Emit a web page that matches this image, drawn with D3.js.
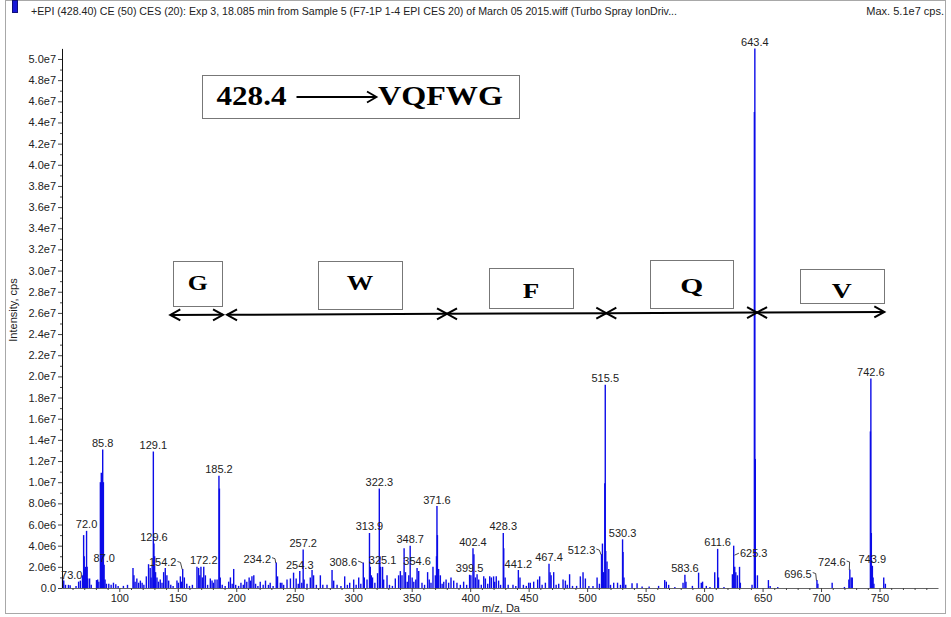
<!DOCTYPE html>
<html><head><meta charset="utf-8">
<script src="https://cdn.jsdelivr.net/npm/d3@7"></script>
<style>
html,body{margin:0;padding:0;background:#fff;}
svg{display:block;}
</style></head><body>
<svg id="c" width="951" height="617"></svg>
<script>
// ---------------- DATA ----------------
const headerText = "+EPI (428.40) CE (50) CES (20): Exp 3, 18.085 min from Sample 5 (F7-1P 1-4 EPI CES 20) of March 05 2015.wiff (Turbo Spray IonDriv...";
const maxText = "Max. 5.1e7 cps.";
const xTitle = "m/z, Da";
const yTitle = "Intensity, cps";
const xTickLabels = ["100","150","200","250","300","350","400","450","500","550","600","650","700","750"];
const yTickLabels = ["0.0","2.0e6","4.0e6","6.0e6","8.0e6","1.0e7","1.2e7","1.4e7","1.6e7","1.8e7","2.0e7","2.2e7","2.4e7","2.6e7","2.8e7","3.0e7","3.2e7","3.4e7","3.6e7","3.8e7","4.0e7","4.2e7","4.4e7","4.6e7","4.8e7","5.0e7"];

// peak m/z and intensity (in 1e6 cps)
const peakMz = [
 51.5,52.5,54.0,56.5,58.0,63.0,65.2,66.7,68.5,69.5,70.0,70.5,71.2,72.0,72.5,73.0,74.6,76.0,80.5,81.5,82.5,
 83.8,84.6,85.2,85.8,86.4,87.0,87.8,89.0,91.0,93.0,95.0,97.0,99.0,103.5,107.0,
 111.7,112.5,113.5,115.0,116.5,118.0,119.5,121.0,123.1,125.0,126.4,127.2,128.1,129.1,129.6,130.2,131.0,132.2,133.5,135.0,136.5,
 137.9,139.3,140.7,142.2,144.0,146.0,149.3,150.5,152.2,153.3,154.2,155.6,157.7,160.0,162.5,
 166.4,167.8,168.8,169.8,171.0,172.2,173.6,175.5,177.8,179.3,180.5,181.8,183.6,185.2,185.6,186.3,188.0,190.5,
 193.5,195.0,196.5,197.8,199.5,202.0,204.0,206.0,207.3,209.0,211.0,212.3,213.4,215.0,216.5,218.5,220.5,223.0,225.0,227.5,229.0,231.5,
 234.2,235.3,237.7,239.0,240.5,243.4,246.3,249.0,251.2,253.0,254.3,256.0,257.2,258.0,260.5,263.3,264.8,266.1,268.5,271.9,274.0,277.6,
 281.9,283.3,286.2,289.5,292.7,295.0,297.0,300.4,302.5,304.7,306.5,308.6,309.5,311.8,313.9,314.6,315.5,316.5,318.5,320.8,322.3,322.8,323.4,
 325.1,326.0,328.9,331.0,333.5,336.0,338.8,340.3,341.7,343.5,344.7,346.2,347.5,348.7,350.4,351.8,353.5,354.6,356.0,358.8,361.0,
 363.6,365.0,366.5,368.2,370.2,371.2,371.6,372.0,373.0,374.5,376.0,377.4,379.4,381.6,383.6,385.9,388.7,391.6,394.4,397.0,
 399.5,400.6,402.4,403.2,404.5,405.9,407.3,409.5,411.6,413.0,415.0,416.7,418.1,420.0,421.0,422.3,424.3,426.0,428.3,428.7,429.9,432.5,
 436.6,439.0,441.2,442.6,445.5,448.0,450.0,451.4,454.3,457.7,459.4,461.5,464.3,467.4,468.3,469.2,471.4,473.5,475.7,479.4,481.4,483.0,
 485.0,487.5,491.0,494.2,496.5,498.5,501.5,505.0,508.5,510.5,512.3,513.1,514.0,515.1,515.5,515.9,517.0,518.5,520.0,522.7,526.0,528.5,
 530.3,530.7,531.5,533.0,538.4,542.7,547.0,553.0,561.1,566.3,567.7,569.7,575.0,582.0,583.6,584.5,590.0,595.3,597.6,598.7,601.9,605.0,
 609.1,611.6,612.3,617.0,624.2,625.3,626.2,627.1,628.5,630.3,631.0,641.0,643.0,643.4,643.8,645.6,655.0,656.5,663.0,
 696.5,697.3,709.5,720.0,723.8,724.6,725.8,726.7,742.2,742.6,743.0,743.9,744.5,745.2,753.6,755.0
];
const peakIntensity = [
 0.9,0.7,0.3,0.3,0.25,0.2,0.6,0.7,1.2,5.0,3.0,1.8,2.0,5.4,2.0,0.9,0.9,0.3,0.75,0.8,0.6,
 10.0,10.9,10.2,13.1,10.0,2.2,0.8,0.4,0.4,0.3,0.5,0.35,0.2,0.2,0.3,
 1.9,1.2,0.6,0.9,0.5,0.7,0.5,0.3,1.1,2.25,1.9,1.0,2.2,12.9,4.2,3.0,1.5,1.0,0.6,0.8,0.5,
 1.5,1.9,1.2,0.7,0.3,0.2,0.7,0.5,1.1,0.6,1.8,1.0,0.4,0.2,0.3,
 2.0,1.9,1.2,2.0,1.0,2.0,1.2,0.3,0.9,0.7,0.5,0.8,0.8,10.6,9.4,1.0,0.3,0.2,
 0.6,1.0,0.4,1.8,0.3,0.2,0.5,0.3,0.8,0.6,1.0,0.7,1.1,1.2,0.4,0.2,0.6,0.3,0.7,0.3,0.5,0.2,
 2.4,1.1,0.5,0.5,0.3,0.8,0.9,1.45,0.9,0.4,1.6,0.5,3.65,0.8,0.4,1.0,1.7,1.2,0.3,1.2,0.3,0.3,
 1.7,0.7,0.3,0.2,1.1,0.3,0.5,0.8,0.3,1.0,0.4,2.4,1.0,0.8,5.2,2.0,1.2,1.0,0.5,1.4,9.4,3.0,2.0,
 2.0,0.8,1.2,0.3,0.2,0.9,1.2,1.6,1.2,3.75,1.5,0.6,1.2,4.0,1.0,0.6,0.8,1.9,1.6,0.5,0.3,
 1.5,0.8,0.5,2.0,1.2,3.0,7.75,5.0,1.8,1.2,0.4,0.6,0.8,0.5,1.0,0.7,0.5,0.3,0.6,0.3,
 1.25,1.2,3.75,3.2,1.0,1.3,0.8,0.3,1.1,0.9,0.4,1.1,1.0,1.1,0.6,1.1,0.7,0.3,5.2,3.75,1.0,0.3,
 0.3,0.2,1.7,1.0,0.3,0.2,0.5,0.5,0.6,0.8,1.1,0.3,0.5,2.3,1.5,1.2,1.5,0.3,0.4,0.8,0.7,0.3,
 1.3,0.2,0.2,1.1,1.5,0.9,0.2,0.2,1.0,0.4,3.2,4.2,1.5,9.9,19.2,3.5,2.5,1.8,0.3,0.5,0.5,0.3,
 4.6,3.4,1.0,0.3,0.45,0.45,0.15,0.15,0.2,0.75,0.6,0.3,0.1,0.5,1.25,0.6,0.2,1.45,0.5,0.6,0.2,0.1,
 1.5,3.7,1.0,0.1,1.3,4.0,2.0,1.5,1.2,2.0,0.5,0.3,45.0,51.0,12.2,1.2,0.75,0.2,0.1,
 0.75,0.4,0.5,0.1,0.8,1.75,1.0,1.0,14.8,19.8,5.2,2.1,1.0,0.4,1.0,0.4
];
// peaks carrying an m/z label
const labeledMz = [72.0,73.0,85.8,87.0,129.1,129.6,154.2,172.2,185.2,234.2,254.3,257.2,308.6,313.9,322.3,325.1,348.7,354.6,371.6,399.5,402.4,428.3,441.2,467.4,512.3,515.5,530.3,583.6,611.6,625.3,643.4,696.5,724.6,742.6,743.9];

const precursorText = "428.4";
const sequenceText = "VQFWG";
const fragmentLetters = ["G","W","F","Q","V"];

// ---------------- DRAWING ----------------
const FONT = "'Liberation Sans', Arial, sans-serif";
const SERIF = "'Liberation Serif', 'Times New Roman', serif";
const svg = d3.select("#c");
const x = d3.scaleLinear().domain([51, 800]).range([62, 938]);
const y = d3.scaleLinear().domain([0, 51]).range([588, 48.4]);

// outer frame
svg.append("rect").attr("x",5.5).attr("y",0.5).attr("width",940).attr("height",613)
  .attr("fill","none").attr("stroke","#a8a8a8");

// header
svg.append("rect").attr("x",12.5).attr("y",0.5).attr("width",5).attr("height",12)
  .attr("fill","#1818d8").attr("stroke","#10107a");
svg.append("text").attr("x",31).attr("y",14.5).attr("font-family",FONT).attr("font-size",11)
  .attr("textLength",646).attr("lengthAdjust","spacingAndGlyphs")
  .attr("fill","#222").text(headerText);
svg.append("text").attr("x",944).attr("y",14.5).attr("text-anchor","end").attr("font-family",FONT)
  .attr("font-size",11).attr("fill","#222").text(maxText);

// peaks
const peaks = peakMz.map((m,i)=>({mz:m, v:peakIntensity[i]}));
svg.append("g").selectAll("line").data(peaks).join("line")
  .attr("x1",d=>x(d.mz)).attr("x2",d=>x(d.mz))
  .attr("y1",y(0)).attr("y2",d=>y(d.v))
  .attr("stroke","#0c0ce8").attr("stroke-width",1.4);

// axes
const yTickVals = yTickLabels.map(s=>parseFloat(s)/1e6);
const yAxis = d3.axisLeft(y).tickValues(yTickVals).tickFormat((d,i)=>yTickLabels[i])
  .tickSize(4).tickSizeOuter(0).tickPadding(2);
const gy = svg.append("g").attr("transform","translate(62,0)").call(yAxis);
const yMinor = d3.axisLeft(y).tickValues(yTickVals.slice(0,-1).map(v=>v+1)).tickFormat("")
  .tickSize(2).tickSizeOuter(0);
svg.append("g").attr("transform","translate(62,0)").call(yMinor).select(".domain").remove();

const xTickVals = xTickLabels.map(Number);
const xAxis = d3.axisBottom(x).tickValues(xTickVals).tickFormat((d,i)=>xTickLabels[i])
  .tickSize(4).tickSizeOuter(0).tickPadding(2);
const gx = svg.append("g").attr("transform","translate(0,588)").call(xAxis);
const minorVals = d3.range(60, 801, 10).filter(v=>v%50!==0);
svg.append("g").attr("transform","translate(0,588)")
  .call(d3.axisBottom(x).tickValues(minorVals).tickFormat("").tickSize(2).tickSizeOuter(0))
  .select(".domain").remove();

svg.selectAll(".tick text").attr("font-family",FONT).attr("font-size",11).attr("fill","#222");
gy.select(".domain").attr("stroke","#111");
gx.select(".domain").attr("stroke","#666");
svg.selectAll(".tick line").attr("stroke","#444");

// axis titles
svg.append("text").attr("transform","translate(17,310) rotate(-90)").attr("text-anchor","middle")
  .attr("font-family",FONT).attr("font-size",11).attr("fill","#222").text(yTitle);
svg.append("text").attr("x",501).attr("y",612).attr("text-anchor","middle")
  .attr("font-family",FONT).attr("font-size",11).attr("fill","#222").text(xTitle);

// peak labels
const labelShift = {"73.0":[-16,3.5],"154.2":[-20,0],"234.2":[-19,2.6],"308.6":[-20,6],
  "512.3":[-20,2.4],"625.3":[20,14],"696.5":[-19,0],"724.6":[-18,-1]};
const gl = svg.append("g");
labeledMz.forEach(m=>{
  let best = peaks[0];
  peaks.forEach(p=>{ if (Math.abs(p.mz-m) < Math.abs(best.mz-m)) best = p; });
  const key = m.toFixed(1);
  const px = x(best.mz), py = y(best.v);
  const sh = labelShift[key] || [0,0];
  const tx = px + sh[0], ty = py - 2.5 + sh[1];
  const t = gl.append("text").attr("x",tx).attr("y",ty).attr("text-anchor","middle")
    .attr("font-family",FONT).attr("font-size",11).attr("fill","#222").text(key);
  if (labelShift[key] && key !== "73.0") {
    const w = t.node().getComputedTextLength();
    let pts;
    if (sh[0] < 0) {
      const ex = tx + w/2 + 1;
      pts = [[ex, ty-5],[ex+3, ty-4],[px-0.5, Math.max(py, ty-4)+0.5]];
    } else {
      const ex = tx - w/2 - 1;
      pts = [[ex, ty-4],[px+0.8, ty-2]];
    }
    gl.append("path").attr("d",d3.line()(pts)).attr("fill","none")
      .attr("stroke","#333").attr("stroke-width",0.9);
  }
});

// ---------------- ANNOTATIONS ----------------
const ga = svg.append("g");
// precursor box
ga.append("rect").attr("x",202.5).attr("y",75.5).attr("width",317).attr("height",43)
  .attr("fill","#fff").attr("stroke","#777").attr("stroke-width",1);
ga.append("text").attr("x",216.5).attr("y",105).attr("font-family",SERIF).attr("font-weight","bold")
  .attr("font-size",28).attr("textLength",70).attr("lengthAdjust","spacingAndGlyphs").text(precursorText);
ga.append("line").attr("x1",296.5).attr("x2",376).attr("y1",97).attr("y2",97)
  .attr("stroke","#000").attr("stroke-width",1.8);
ga.append("path").attr("d","M367,91.5L376.5,97L367,102.5").attr("fill","none")
  .attr("stroke","#000").attr("stroke-width",1.8);
ga.append("text").attr("x",378).attr("y",105).attr("font-family",SERIF).attr("font-weight","bold")
  .attr("font-size",28).attr("textLength",125).attr("lengthAdjust","spacingAndGlyphs").text(sequenceText);

// fragment boxes
const boxLayout = [
  {x0:173.5,y0:261.5,x1:222.5,y1:306.5,tx:197.7,ty:290,tw:20},
  {x0:318.5,y0:261.5,x1:402.5,y1:309.5,tx:360,ty:290,tw:26.5},
  {x0:489.5,y0:268.5,x1:573.5,y1:308.5,tx:531,ty:298,tw:16.5},
  {x0:650.5,y0:260.5,x1:733.5,y1:308.5,tx:691.7,ty:293,tw:23},
  {x0:800.5,y0:269.5,x1:884.5,y1:303.5,tx:841.7,ty:297.5,tw:20}
];
fragmentLetters.forEach((L,i)=>{
  const b = boxLayout[i];
  ga.append("rect").attr("x",b.x0).attr("y",b.y0).attr("width",b.x1-b.x0).attr("height",b.y1-b.y0)
    .attr("fill","#fff").attr("stroke","#777");
  ga.append("text").attr("x",b.tx - b.tw/2).attr("y",b.ty).attr("font-family",SERIF)
    .attr("font-weight","bold").attr("font-size",21).attr("textLength",b.tw)
    .attr("lengthAdjust","spacingAndGlyphs").text(L);
});
// fragment arrows (m/z spans)
const spans = [[143.6,188.7],[192.1,380.2],[380.2,516.4],[516.4,645.3],[645.3,754.1]];
const ay = px => 315 - (px-170)/(884-170)*3;
spans.forEach(s=>{
  const a = x(s[0]), b = x(s[1]);
  const ya = ay(a), yb = ay(b);
  ga.append("line").attr("x1",a).attr("x2",b).attr("y1",ya).attr("y2",yb)
    .attr("stroke","#000").attr("stroke-width",2);
  const hl = 10, hh = 5.5;
  ga.append("path").attr("d",`M${a+hl},${ya-hh}L${a},${ya}L${a+hl},${ya+hh}`)
    .attr("fill","none").attr("stroke","#000").attr("stroke-width",2);
  ga.append("path").attr("d",`M${b-hl},${yb-hh}L${b},${yb}L${b-hl},${yb+hh}`)
    .attr("fill","none").attr("stroke","#000").attr("stroke-width",2);
});
</script>
</body></html>
